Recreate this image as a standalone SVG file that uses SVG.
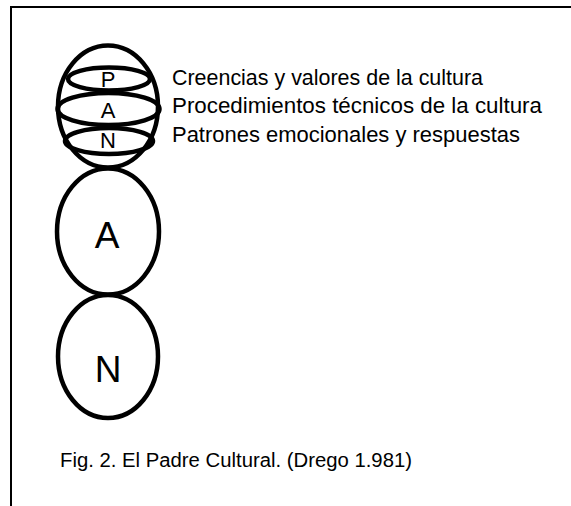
<svg xmlns="http://www.w3.org/2000/svg" width="571" height="506" viewBox="0 0 571 506">
<style>
.o{fill:none;stroke:#000;stroke-width:4.5}
.t{font-family:"Liberation Sans",Arial,sans-serif;fill:#000}
.l{font-size:21.5px}
.c{font-size:20px}
.s{font-size:22px;text-anchor:middle}
.b{font-size:37px;text-anchor:middle}
</style>
<rect width="571" height="506" fill="#fff"/>
<path d="M11,506 V7 H571" fill="none" stroke="#000" stroke-width="2"/>
<g id="pan">
<ellipse class="o" cx="108" cy="106.5" rx="50" ry="61"/>
<ellipse class="o" cx="109" cy="79" rx="41" ry="11.5"/>
<ellipse class="o" cx="108.5" cy="109" rx="51" ry="16"/>
<ellipse class="o" cx="109" cy="141" rx="44" ry="13"/>
<text class="t s" x="108" y="87">P</text>
<text class="t s" x="108" y="118">A</text>
<text class="t s" x="108" y="148">N</text>
</g>
<g id="adulto">
<ellipse class="o" cx="108" cy="231.5" rx="51" ry="63"/>
<text class="t b" x="107" y="248">A</text>
</g>
<g id="nino">
<ellipse class="o" cx="108" cy="356.5" rx="50" ry="61.5"/>
<text class="t b" x="108" y="382">N</text>
</g>
<g id="labels">
<text class="t l" x="172" y="85" textLength="311" lengthAdjust="spacingAndGlyphs">Creencias y valores de la cultura</text>
<text class="t l" x="172" y="113" textLength="370" lengthAdjust="spacingAndGlyphs">Procedimientos técnicos de la cultura</text>
<text class="t l" x="172" y="142" textLength="348" lengthAdjust="spacingAndGlyphs">Patrones emocionales y respuestas</text>
</g>
<text class="t c" x="60" y="467" textLength="352" lengthAdjust="spacingAndGlyphs">Fig. 2. El Padre Cultural. (Drego 1.981)</text>
</svg>
